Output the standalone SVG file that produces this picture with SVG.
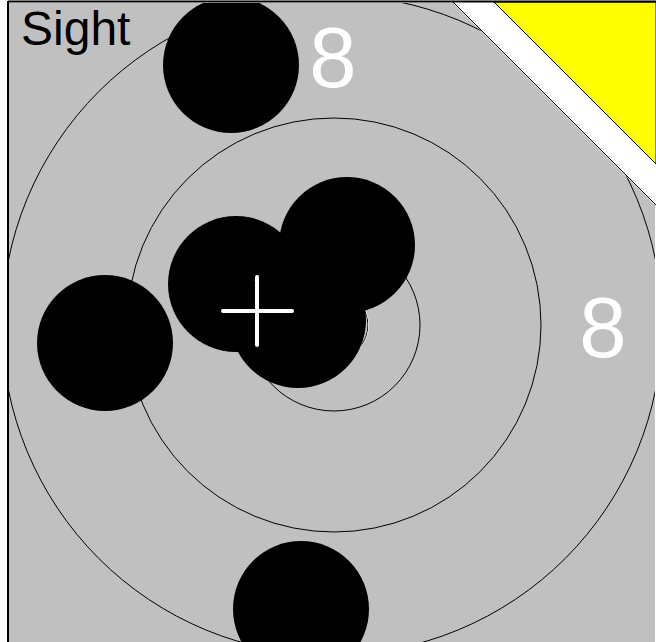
<svg xmlns="http://www.w3.org/2000/svg" width="656" height="642" viewBox="0 0 656 642">
<style>
.ring{fill:none;stroke:#000;stroke-width:1}
.shot{fill:#000}
.lbl{font-family:"Liberation Sans",Arial,sans-serif;fill:#fff;font-size:85px;text-anchor:middle}
.cross{stroke:#fff;stroke-width:4;stroke-linecap:round}
</style>
<defs>
<clipPath id="area"><polygon points="9,3 453,3 655,205 655,642 9,642"/></clipPath>
</defs>
<rect x="0" y="0" width="656" height="642" fill="#fff"/>
<g id="frame">
<polygon points="9,3 453,3 655,205 655,642 9,642" fill="#c0c0c0"/>
<polygon points="494,2 656,2 656,164" fill="#ff0" stroke="#000" stroke-width="1"/>
<line x1="8" y1="1.5" x2="656" y2="1.5" stroke="#000" stroke-width="2"/>
<line x1="8" y1="1" x2="8" y2="642" stroke="#000" stroke-width="2"/>
<line x1="453" y1="2" x2="656" y2="205" stroke="#000" stroke-width="1"/>
</g>
<g id="target" clip-path="url(#area)">
<circle class="ring" cx="332" cy="325" r="330"/>
<circle class="ring" cx="334" cy="325" r="207"/>
<circle class="ring" cx="334" cy="325" r="86"/>
<circle class="ring" cx="333" cy="325" r="35"/>
</g>
<g id="shots" clip-path="url(#area)">
<circle id="shot1" class="shot" cx="231" cy="65" r="68"/>
<circle id="shot2" class="shot" cx="105" cy="343" r="68"/>
<circle id="shot3" class="shot" cx="301" cy="609" r="68"/>
<circle id="shot4" class="shot" cx="347" cy="245" r="68"/>
<circle id="shot5" class="shot" cx="236" cy="284" r="68"/>
<circle id="shot6" class="shot" cx="298" cy="320" r="68"/>
</g>
<g id="artifacts" fill="none" stroke="#ddd" stroke-width="1">
<path d="M366,311 A35,35 0 0 1 360,348"/>
<path d="M255,281 L258,275"/>
</g>
<g id="sight-mark">
<line class="cross" x1="223" y1="311" x2="292" y2="311"/>
<line class="cross" x1="257" y1="277" x2="257" y2="345"/>
</g>
<g id="labels">
<text x="21" y="45" font-family="'Liberation Sans',Arial,sans-serif" font-size="48" fill="#000">Sight</text>
<text class="lbl" x="333" y="87">8</text>
<text class="lbl" x="603" y="357">8</text>
</g>
</svg>
